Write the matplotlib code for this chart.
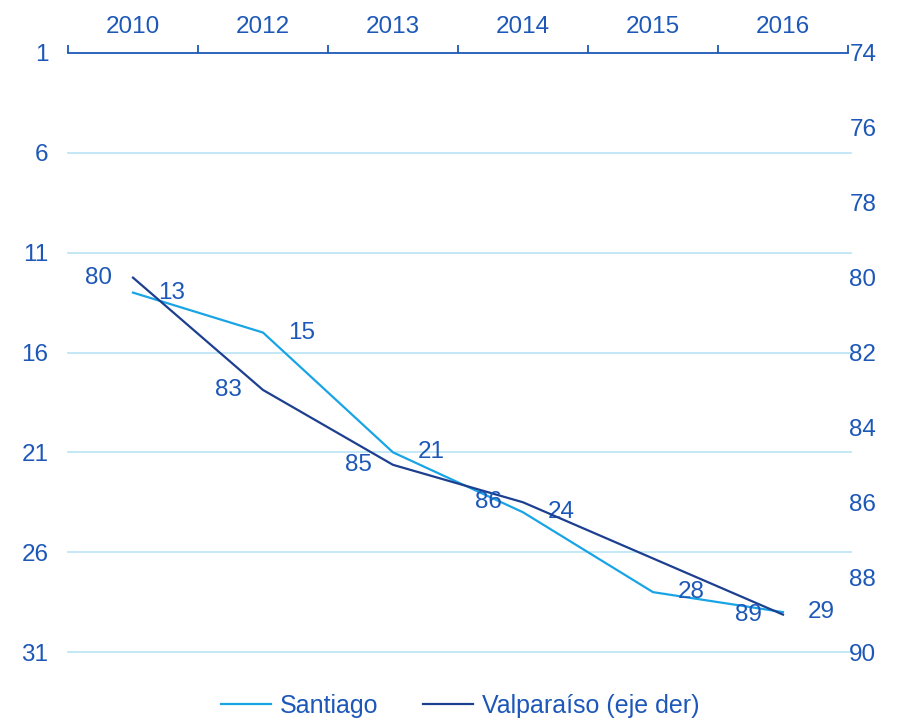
import numpy as np
import matplotlib.pyplot as plt

years = ["2010", "2012", "2013", "2014", "2015", "2016"]
santiago = [13, 15, 21, 24, 28, 29]
valparaiso = [80, 83, 85, 86, np.nan, 89]  # sin dato en 2015
left_ticks = [1, 6, 11, 16, 21, 26, 31]
right_ticks = [74, 76, 78, 80, 82, 84, 86, 88, 90]

LIGHT = "#19a4e6"
DARK = "#1c3f8f"
TXT = "#1d58b8"
GRID = "#bfe6f7"
FS = 17.5

plt.rcParams["font.family"] = ["Liberation Sans", "DejaVu Sans"]

fig = plt.figure(figsize=(9.2, 7.2), dpi=100)
ax = fig.add_axes([0.0739, 0.0944, 0.8478, 0.8320])
ax2 = ax.twinx()

x = np.arange(len(years))
ax.set_xlim(-0.5, len(years) - 0.5)

ax.set_ylim(31, 1)
ax2.set_ylim(90, 74)

# grid lines (left axis)
for t in left_ticks[1:]:
    ax.plot([-0.5, len(years) - 0.48], [t, t], color=GRID, lw=1.3, zorder=1, clip_on=False)

ax.plot(x, santiago, color=LIGHT, lw=1.6, zorder=3, label="Santiago")
v = np.array(valparaiso, dtype=float)
m = ~np.isnan(v)
ax2.plot(x[m], v[m], color=DARK, lw=1.6, zorder=3, label="Valparaíso (eje der)")

# data labels
for xi, val in zip(x, santiago):
    ax.annotate(str(val), (xi, val), xytext=(18, 0), textcoords="offset points",
                ha="left", va="center", fontsize=FS, color=TXT)
for xi, val in zip(x[m], v[m]):
    ax2.annotate(str(int(val)), (xi, val), xytext=(-15, 0), textcoords="offset points",
                 ha="right", va="center", fontsize=FS, color=TXT)

# top category axis
ax.xaxis.tick_top()
ax.set_xticks(x)
ax.set_xticklabels(years)
ax.set_xticks(np.arange(-0.5, len(years)), minor=True)
ax.tick_params(axis="x", which="major", length=0, labelsize=FS, labelcolor=TXT, pad=11)
ax.tick_params(axis="x", which="minor", length=6, width=1.3, color=TXT, direction="out")

ax.set_yticks(left_ticks)
ax.tick_params(axis="y", length=0, labelsize=FS, labelcolor=TXT, pad=14)
ax2.set_yticks(right_ticks)
ax2.tick_params(axis="y", length=0, labelsize=FS, labelcolor=TXT, pad=1)

for a in (ax, ax2):
    for s in ("left", "right", "bottom", "top"):
        a.spines[s].set_visible(False)
ax.spines["top"].set_visible(True)
ax.spines["top"].set_color(TXT)
ax.spines["top"].set_linewidth(1.3)

h1, l1 = ax.get_legend_handles_labels()
h2, l2 = ax2.get_legend_handles_labels()
fig.legend(h1 + h2, l1 + l2, loc="lower center", ncol=2, frameon=False,
           fontsize=18, labelcolor=TXT, bbox_to_anchor=(0.5, -0.028),
           handlelength=2.0, handletextpad=0.35, columnspacing=1.8)

fig.savefig("out.png", dpi=100, facecolor="white")
